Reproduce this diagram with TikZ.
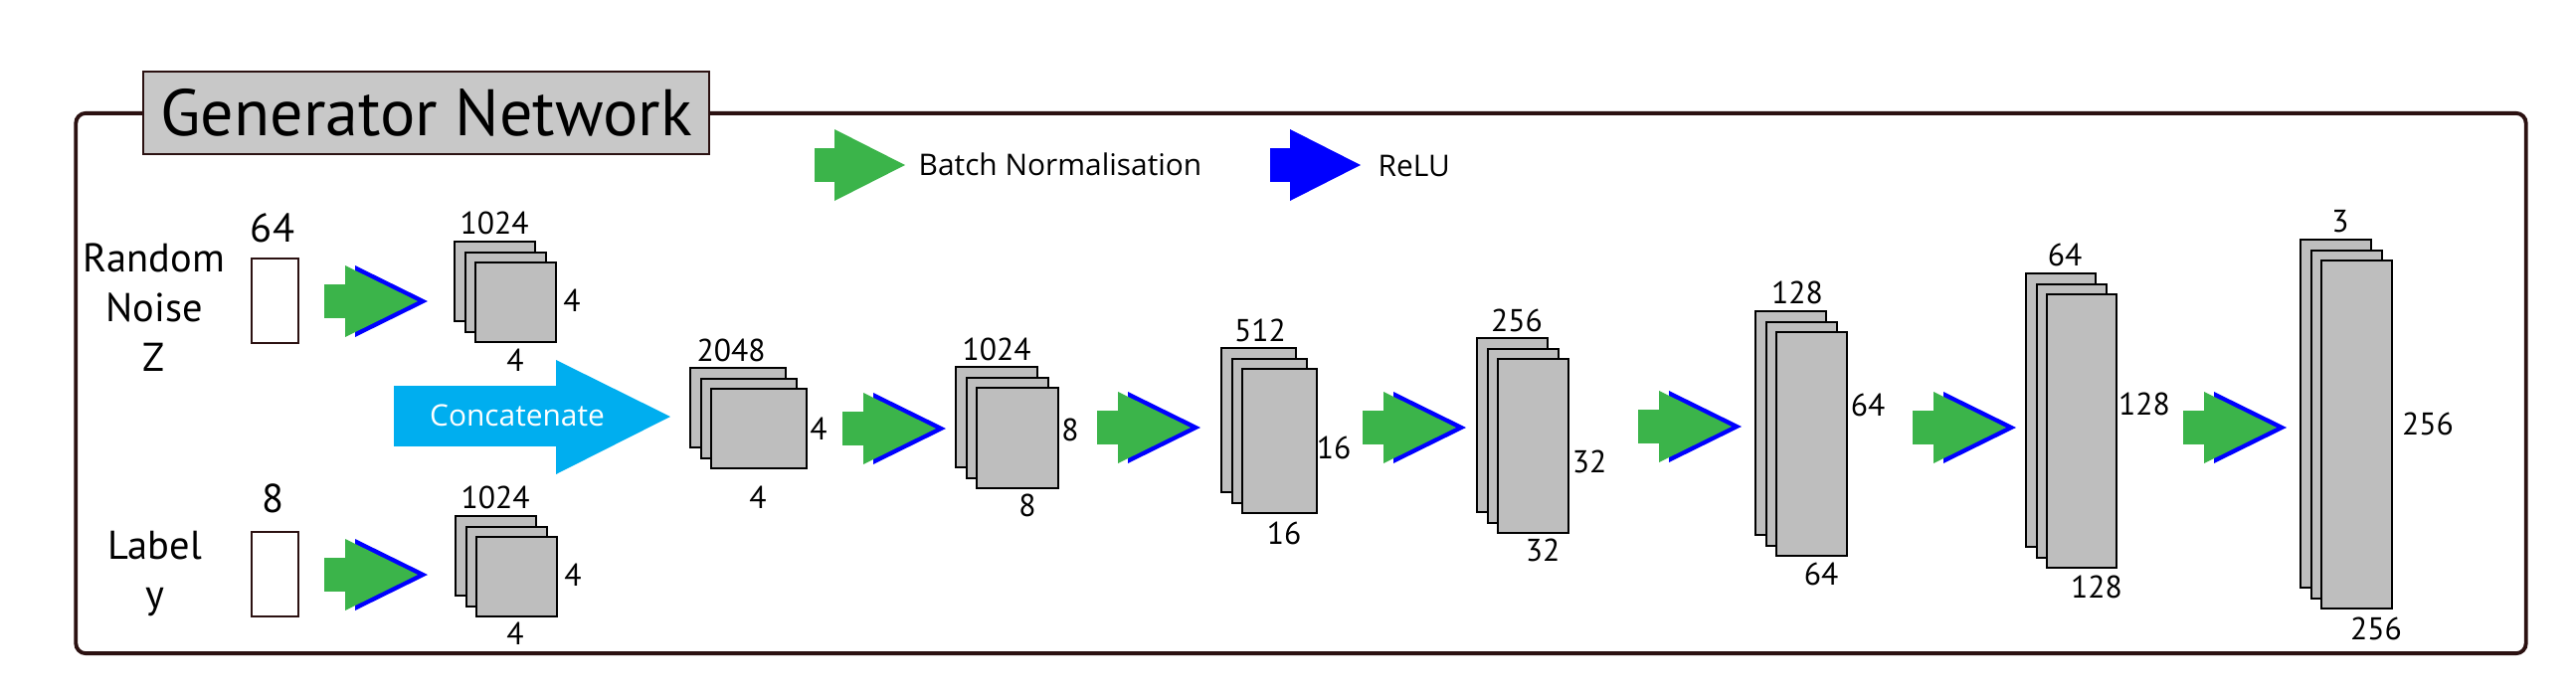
\documentclass[tikz,border=0pt]{standalone}
\usepackage{fontspec}
\setmainfont{PT Sans}
\newfontfamily\legendfont{Open Sans}
\usetikzlibrary{positioning}

\definecolor{bngreen}{HTML}{3BB44A}
\definecolor{relublue}{HTML}{0000FF}
\definecolor{concatblue}{HTML}{00AEEF}
\definecolor{framebrown}{HTML}{2B1111}
\definecolor{mapgray}{HTML}{BEBEBE}
\definecolor{titlegray}{HTML}{C8C8C8}

\begin{document}
\begin{tikzpicture}[
  x=0.01cm, y=-0.01cm,
  fmap/.style={draw=black, fill=mapgray, line width=0.6pt, inner sep=0pt, anchor=north west},
  vecbox/.style={draw=framebrown, fill=white, line width=0.6pt, inner sep=0pt, minimum width=0.47cm, minimum height=0.85cm},
  dimlabel/.style={font=\fontsize{9}{10}\selectfont, inner sep=0pt},
  inlabel/.style={font=\fontsize{11.5}{14.2}\selectfont, inner sep=0pt, align=center},
  legendtext/.style={font=\legendfont\fontsize{8.5}{10}\selectfont, inner sep=0pt, anchor=west},
  pics/bnrelu/.style={code={
    \fill[relublue] (31,-36) -- (104,0) -- (31,36) -- cycle;
    \fill[bngreen] (0,-17) rectangle (21,17);
    \fill[bngreen] (21,-36) -- (94,0) -- (21,36) -- cycle;
  }},
  pics/legendarrow/.style={code={
    \fill[#1] (0,-17) rectangle (20,17);
    \fill[#1] (20,-36) -- (91,0) -- (20,36) -- cycle;
  }}
]
\useasboundingbox (0,0) rectangle (2590,700);

% outer frame and title
\node[draw=framebrown, line width=1.1pt, rounded corners=0.1cm, minimum width=24.62cm, minimum height=5.43cm] (frame) at (1308,385.5) {};
\node[draw=framebrown, fill=titlegray, line width=0.5pt, minimum width=5.69cm, minimum height=0.83cm, inner sep=0pt, font=\fontsize{18.8}{20}\selectfont] (title) at (428.5,113.5) {Generator Network};

% legend
\pic (lgbn) at (819,166) {legendarrow=bngreen};
\node[legendtext] (lgbntext) at (923,165) {Batch Normalisation};
\pic (lgrelu) at (1277,166) {legendarrow=relublue};
\node[legendtext] (lgrelutext) at (1385,167) {ReLU};

% inputs
\node[inlabel, anchor=north] (noisetext) at (155,244) {Random\\Noise\\Z};
\node[inlabel, anchor=north] (labeltext) at (156,533) {Label\\y};
\node[vecbox] (noise) at (276.5,302.5) {};
\node[vecbox] (label) at (276.5,577.5) {};
\node[inlabel] (noisedim) at (274,229) {64};
\node[inlabel] (labeldim) at (275,501) {8};

% feature map stacks
\foreach \n/\x/\y/\w/\h in {s1/456/242/0.81/0.80, s2/457/518/0.81/0.80, s3/693/369/0.96/0.80,
    s4/960/368/0.82/1.01, s5/1227/349/0.75/1.45, s6/1484/339/0.71/1.75,
    s7/1764/312/0.71/2.25, s8/2036/274/0.70/2.75, s9/2312/240/0.71/3.50}
  \foreach \i in {0,1,2}
    \node[fmap, minimum width=\w cm, minimum height=\h cm] (\n-\i) at (\x+\i*10.5,\y+\i*10.5) {};

% sizes of the maps
\foreach \x/\y/\t [count=\k] in {497/224/1024, 575/302/4, 518/362/4,
    498/500/1024, 576/578/4, 518/637/4,
    735/352/2048, 823/431/4, 762/500/4,
    1002/351/1024, 1076/432/8, 1033/508/8,
    1267/332/512, 1341/450/16, 1291/536/16,
    1525/322/256, 1598/464/32, 1551/553/32,
    1807/294/128, 1878/407/64, 1831/577/64,
    2076/256/64, 2156/406/128, 2108/590/128,
    2353/223/3, 2441/426/256, 2389/632/256}
  \node[dimlabel] (dim\k) at (\x,\y) {\t};

% batch norm + relu steps
\foreach \x/\y [count=\k] in {326/303, 326/578, 847/431, 1103/430, 1370/430, 1647/429, 1923/430, 2195/430}
  \pic (step\k) at (\x,\y) {bnrelu};

% concatenation
\fill[concatblue] (396,388) rectangle (559,449);
\fill[concatblue] (559,362) -- (674,419) -- (559,477) -- cycle;
\node[font=\legendfont\fontsize{8.5}{10}\selectfont, text=white, inner sep=0pt] (concat) at (520,418) {Concatenate};

\end{tikzpicture}
\end{document}
